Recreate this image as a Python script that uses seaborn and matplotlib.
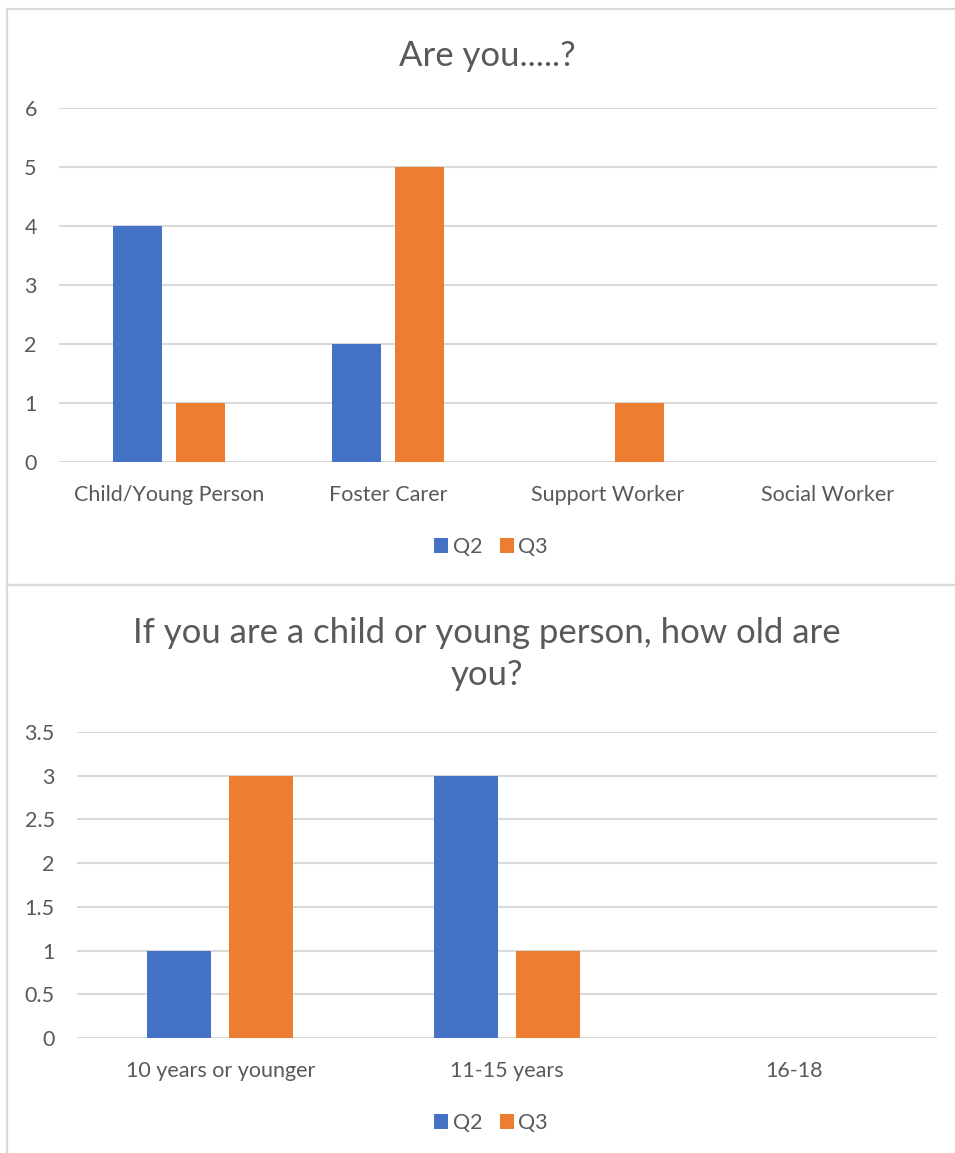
import matplotlib
matplotlib.use("Agg")
import matplotlib.pyplot as plt
from matplotlib.patches import Rectangle, Patch
import pandas as pd
import seaborn as sns

# Survey responses: "Are you.....?"
role_categories = ["Child/Young Person", "Foster Carer", "Support Worker", "Social Worker"]
role_q2 = [4, 2, 0, 0]
role_q3 = [1, 5, 1, 0]

# Survey responses: age of child / young person
age_categories = ["10 years or younger", "11-15 years", "16-18"]
age_q2 = [1, 3, 0]
age_q3 = [3, 1, 0]

series_names = ["Q2", "Q3"]
role_ticks = [0, 1, 2, 3, 4, 5, 6]
age_ticks = [0, 0.5, 1, 1.5, 2, 2.5, 3, 3.5]

BLUE = "#4472C4"
ORANGE = "#ED7D31"
TEXT = "#595959"
GRID = "#D9D9D9"

sns.set_theme(style="white")
plt.rcParams["font.family"] = ["Lato", "DejaVu Sans"]

W, H = 955, 1153
fig = plt.figure(figsize=(W / 100, H / 100), dpi=100)


def long_frame(cats, q2, q3):
    return pd.DataFrame({
        "category": cats * 2,
        "value": q2 + q3,
        "series": [series_names[0]] * len(cats) + [series_names[1]] * len(cats),
    })


def px_axes(left, top, right, bottom):
    return fig.add_axes([left / W, 1 - bottom / H, (right - left) / W, (bottom - top) / H])


def draw_panel(ax, df, cats, ticks):
    sns.barplot(data=df, x="category", y="value", hue="series", order=cats,
                hue_order=series_names, palette=[BLUE, ORANGE], width=0.572,
                gap=0.22, ax=ax, legend=False, errorbar=None, saturation=1)
    ax.set_ylim(ticks[0], ticks[-1])
    ax.set_xlim(-0.5, len(cats) - 0.5)
    ax.set_yticks(ticks)
    ax.set_yticklabels([f"{t:g}" for t in ticks])
    ax.yaxis.grid(True, color=GRID, linewidth=1.5)
    ax.set_axisbelow(True)
    for s in ax.spines.values():
        s.set_visible(False)
    ax.tick_params(axis="both", length=0, colors=TEXT, labelsize=15.5)
    ax.tick_params(axis="y", pad=16)
    ax.tick_params(axis="x", pad=16.5)
    ax.set_xlabel("")
    ax.set_ylabel("")
    for p in ax.patches:
        p.set_edgecolor("none")


# Chart frames
for (x0, y0, x1, y1) in [(7, 9, 960, 585), (7, 585, 960, 1160)]:
    fig.add_artist(Rectangle((x0 / W, 1 - y1 / H), (x1 - x0) / W, (y1 - y0) / H,
                             transform=fig.transFigure, fill=False,
                             edgecolor=GRID, linewidth=1.6))

# Top chart
ax1 = px_axes(59, 108, 937, 462)
draw_panel(ax1, long_frame(role_categories, role_q2, role_q3), role_categories, role_ticks)
fig.text(487 / W, 1 - 56 / H, "Are you.....?", ha="center", va="center",
         fontsize=25, color=TEXT)

# Bottom chart
ax2 = px_axes(77, 732, 937, 1038)
draw_panel(ax2, long_frame(age_categories, age_q2, age_q3), age_categories, age_ticks)
fig.text(487 / W, 1 - 654 / H, "If you are a child or young person, how old are\nyou?",
         ha="center", va="center", fontsize=25, color=TEXT, linespacing=1.35)

# Legends
handles = [Patch(facecolor=BLUE, edgecolor="none", label=series_names[0]),
           Patch(facecolor=ORANGE, edgecolor="none", label=series_names[1])]
for ycen in (547, 1123):
    fig.legend(handles=handles, loc="center", bbox_to_anchor=(491 / W, 1 - ycen / H),
               ncol=2, frameon=False, fontsize=15.5, labelcolor=TEXT,
               handlelength=0.65, handleheight=0.65, handletextpad=0.23,
               columnspacing=0.8)

fig.savefig("out.png", dpi=100, facecolor="white")
